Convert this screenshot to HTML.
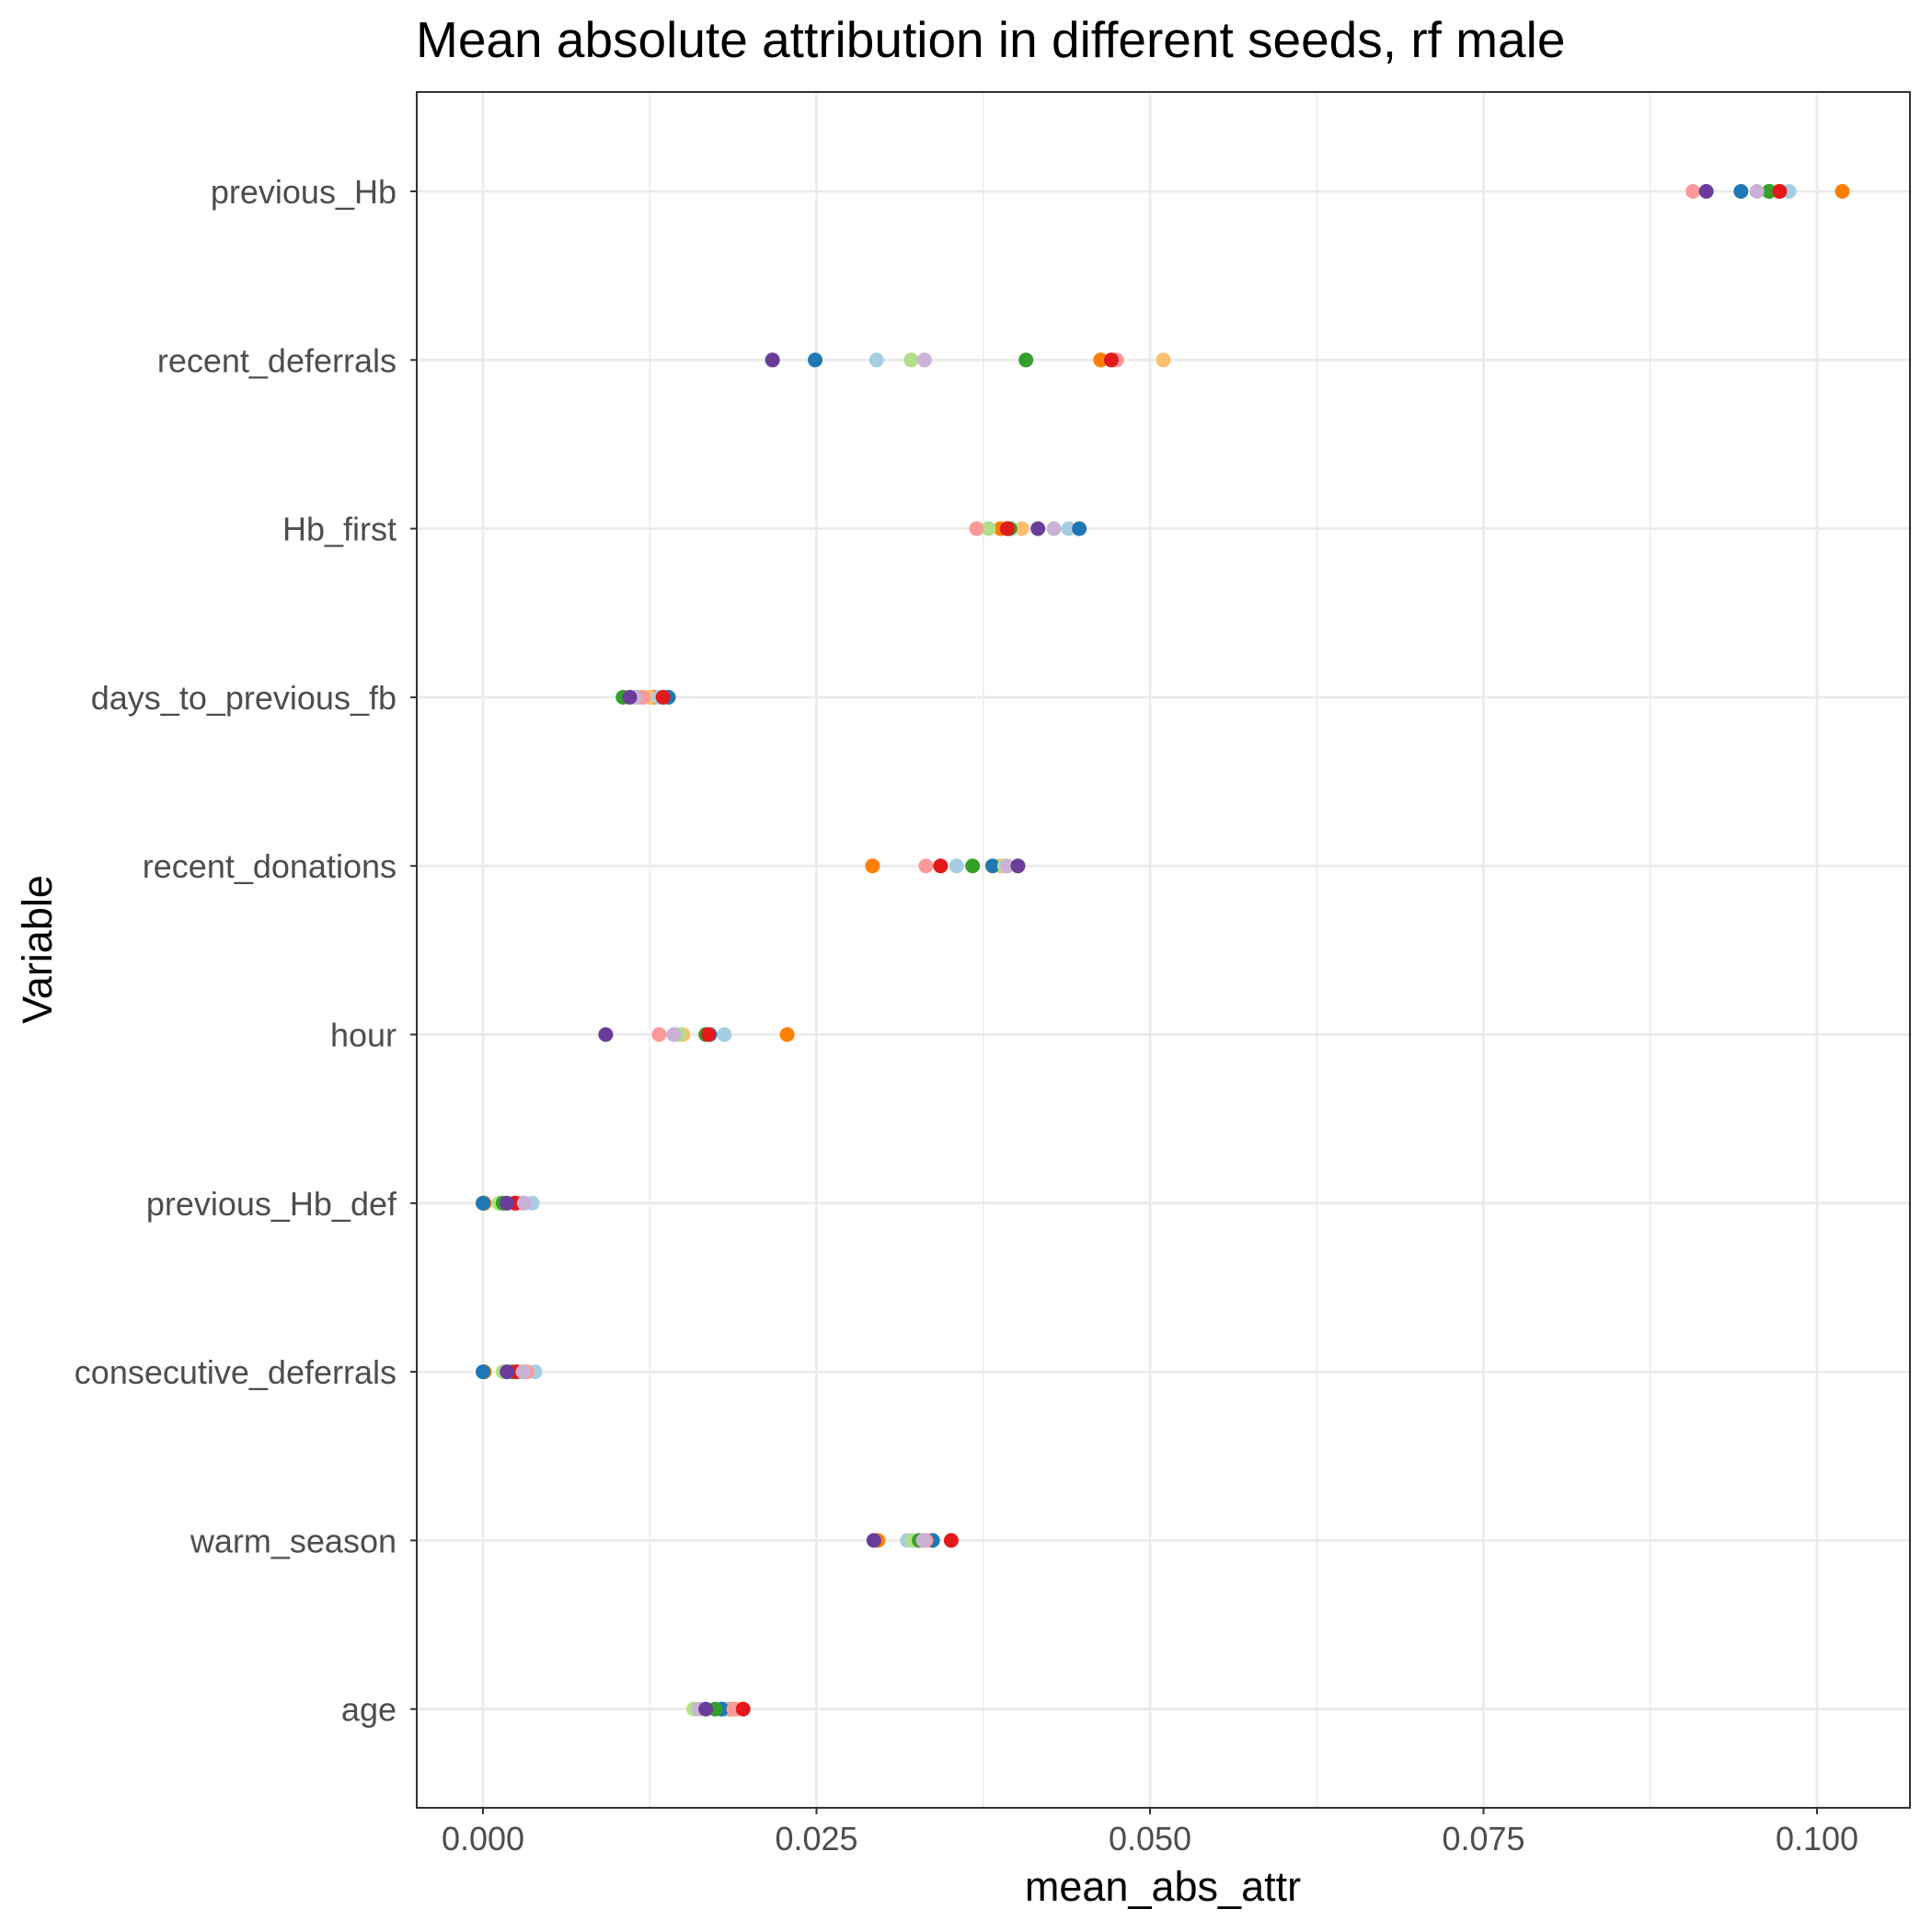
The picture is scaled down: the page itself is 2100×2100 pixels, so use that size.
<!DOCTYPE html>
<html><head><meta charset="utf-8"><style>
html,body{margin:0;padding:0;background:#fff;}
svg{display:block;font-family:"Liberation Sans",Arial,sans-serif;}
</style></head><body>
<svg id="chart" width="2100" height="2100" xmlns="http://www.w3.org/2000/svg">
<text x="452" y="62" font-size="55" fill="#000">Mean absolute attribution in different seeds, rf male</text>
<g id="plot"></g>
<text x="1264" y="2066" font-size="45" text-anchor="middle" fill="#000">mean_abs_attr</text>
<text transform="translate(56,1032) rotate(-90)" font-size="45" text-anchor="middle" fill="#000">Variable</text>
</svg>
<script>
const categories=["previous_Hb","recent_deferrals","Hb_first","days_to_previous_fb","recent_donations","hour","previous_Hb_def","consecutive_deferrals","warm_season","age"];
const seedColors=["#FF7F00","#FDBF6F","#A6CEE3","#1F78B4","#B2DF8A","#33A02C","#FB9A99","#E31A1C","#CAB2D6","#6A3D9A"];
const seedOrange=[0.1019,0.0463,0.0388,0.0128,0.0292,0.0228,0.0001,0.0001,0.0296,0.0185];
const seedLightOrange=[0.0971,0.0510,0.0404,0.0125,0.0388,0.0150,0.0026,0.0028,0.0329,0.0190];
const seedLightBlue=[0.0979,0.0295,0.0439,0.0132,0.0355,0.0181,0.0037,0.0039,0.0318,0.0182];
const seedBlue=[0.0943,0.0249,0.0447,0.0139,0.0382,0.0170,0.0000,0.0000,0.0337,0.0179];
const seedLightGreen=[0.0965,0.0321,0.0379,0.0117,0.0391,0.0147,0.0012,0.0015,0.0322,0.0158];
const seedGreen=[0.0964,0.0407,0.0395,0.0105,0.0367,0.0167,0.0015,0.0022,0.0327,0.0174];
const seedPink=[0.0907,0.0475,0.0370,0.0120,0.0332,0.0132,0.0029,0.0033,0.0332,0.0188];
const seedRed=[0.0972,0.0471,0.0393,0.0135,0.0343,0.0169,0.0024,0.0025,0.0351,0.0195];
const seedLavender=[0.0955,0.0331,0.0428,0.0114,0.0393,0.0143,0.0031,0.0030,0.0330,0.0162];
const seedPurple=[0.0917,0.0217,0.0416,0.0110,0.0401,0.0092,0.0018,0.0018,0.0293,0.0167];
const xTicks=[0,0.025,0.05,0.075,0.1];
const xTickLabels=["0.000","0.025","0.050","0.075","0.100"];

const series=[seedOrange,seedLightOrange,seedLightBlue,seedBlue,seedLightGreen,seedGreen,seedPink,seedRed,seedLavender,seedPurple];
const NS="http://www.w3.org/2000/svg";
const L=453,R=2076,T=100,B=1965;
const x=v=>525+(v/0.1)*1450;
const y=i=>208+i*183.3;
const g=document.getElementById('plot');
function mk(tag,attrs){const e=document.createElementNS(NS,tag);for(const k in attrs)e.setAttribute(k,attrs[k]);return e;}
for(let i=0;i<xTicks.length;i++){
  const v=xTicks[i]+0.0125; const px=x(v);
  if(px<R){const ln=mk('line',{x1:px,x2:px,y1:T,y2:B,stroke:'#EBEBEB','stroke-width':1.4});
  
  g.appendChild(ln);}
}
xTicks.forEach((v,i)=>{
  const ln=mk('line',{x1:x(v),x2:x(v),y1:T,y2:B,stroke:'#EBEBEB','stroke-width':2.8});
  
  g.appendChild(ln);
  const tk=mk('line',{x1:x(v),x2:x(v),y1:B,y2:B+7,stroke:'#333','stroke-width':2});
  
  g.appendChild(tk);
  const t=mk('text',{x:x(v),y:B+46,'font-size':36,'text-anchor':'middle',fill:'#4D4D4D'});
  t.textContent=xTickLabels[i];
  
  g.appendChild(t);
});
categories.forEach((c,i)=>{
  const ln=mk('line',{x1:L,x2:R,y1:y(i),y2:y(i),stroke:'#EBEBEB','stroke-width':2.8});
  
  g.appendChild(ln);
  const tk=mk('line',{x1:L-7,x2:L,y1:y(i),y2:y(i),stroke:'#333','stroke-width':2});
  
  g.appendChild(tk);
  const t=mk('text',{x:L-22,y:y(i)+13,'font-size':36,'text-anchor':'end',fill:'#4D4D4D'});
  t.textContent=c;
  
  g.appendChild(t);
});
series.forEach((s,si)=>{
  s.forEach((v,i)=>{
    const p=mk('circle',{cx:x(v),cy:y(i),r:8,fill:seedColors[si]});
    
    
    g.appendChild(p);
  });
});
const fr=mk('rect',{x:L,y:T,width:R-L,height:B-T,fill:'none',stroke:'#333','stroke-width':2});


g.appendChild(fr);
</script>
</body></html>
